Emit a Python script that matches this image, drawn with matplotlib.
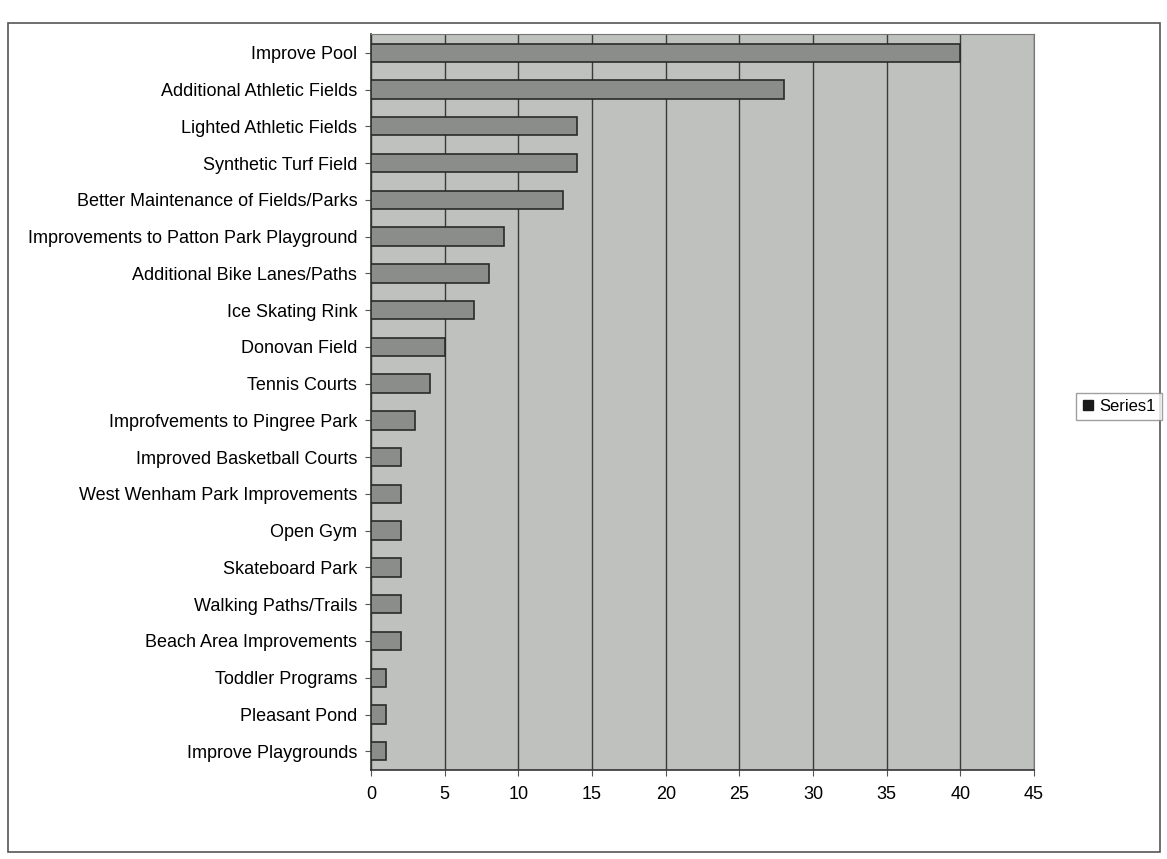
import numpy as np
import matplotlib.pyplot as plt
from matplotlib.patches import Rectangle

categories = [
    "Improve Pool",
    "Additional Athletic Fields",
    "Lighted Athletic Fields",
    "Synthetic Turf Field",
    "Better Maintenance of Fields/Parks",
    "Improvements to Patton Park Playground",
    "Additional Bike Lanes/Paths",
    "Ice Skating Rink",
    "Donovan Field",
    "Tennis Courts",
    "Improfvements to Pingree Park",
    "Improved Basketball Courts",
    "West Wenham Park Improvements",
    "Open Gym",
    "Skateboard Park",
    "Walking Paths/Trails",
    "Beach Area Improvements",
    "Toddler Programs",
    "Pleasant Pond",
    "Improve Playgrounds",
]
series1 = [40, 28, 14, 14, 13, 9, 8, 7, 5, 4, 3, 2, 2, 2, 2, 2, 2, 1, 1, 1]
xticks = [0, 5, 10, 15, 20, 25, 30, 35, 40, 45]

plt.rcParams['font.family'] = ['Liberation Sans', 'DejaVu Sans']

fig = plt.figure(figsize=(11.67, 8.59), dpi=100)
fig.patch.set_facecolor('white')

# chart area border
fig.patches.append(Rectangle((0.007, 0.008), 0.987, 0.965, transform=fig.transFigure,
                             fill=False, edgecolor='#555555', linewidth=1.2))

ax = fig.add_axes([0.318, 0.104, 0.568, 0.856])
ax.set_facecolor('#bfc1be')

y = np.arange(len(categories))
ax.barh(y, series1, height=0.5, color='#8b8d8b', edgecolor='#2a2a2a',
        linewidth=1.2, label='Series1', zorder=3)

ax.set_xlim(0, 45)
ax.set_ylim(len(categories) - 0.5, -0.5)
ax.set_xticks(xticks)
ax.set_yticks(y)
ax.set_yticklabels(categories)
ax.xaxis.grid(True, color='#3a3a3a', linewidth=1.0, zorder=1)
ax.set_axisbelow(True)

ax.tick_params(axis='y', length=4, labelsize=13, pad=6, color='#555555')
ax.tick_params(axis='x', length=4, labelsize=13, pad=8, color='#555555')

for side in ['top', 'right']:
    ax.spines[side].set_color('#777777')
for side in ['left', 'bottom']:
    ax.spines[side].set_color('#333333')
    ax.spines[side].set_linewidth(1.2)

leg = fig.legend(handles=[plt.Line2D([], [], marker='s', color='#1a1a1a', linestyle='',
                                     markersize=7)],
                 labels=['Series1'], loc='center', bbox_to_anchor=(0.959, 0.527),
                 frameon=True, fancybox=False, fontsize=12, handlelength=0.7,
                 handletextpad=0.35, borderpad=0.35, borderaxespad=0)
leg.get_frame().set_edgecolor('#888888')
leg.get_frame().set_linewidth(1.0)

fig.savefig('out.png', dpi=100)
